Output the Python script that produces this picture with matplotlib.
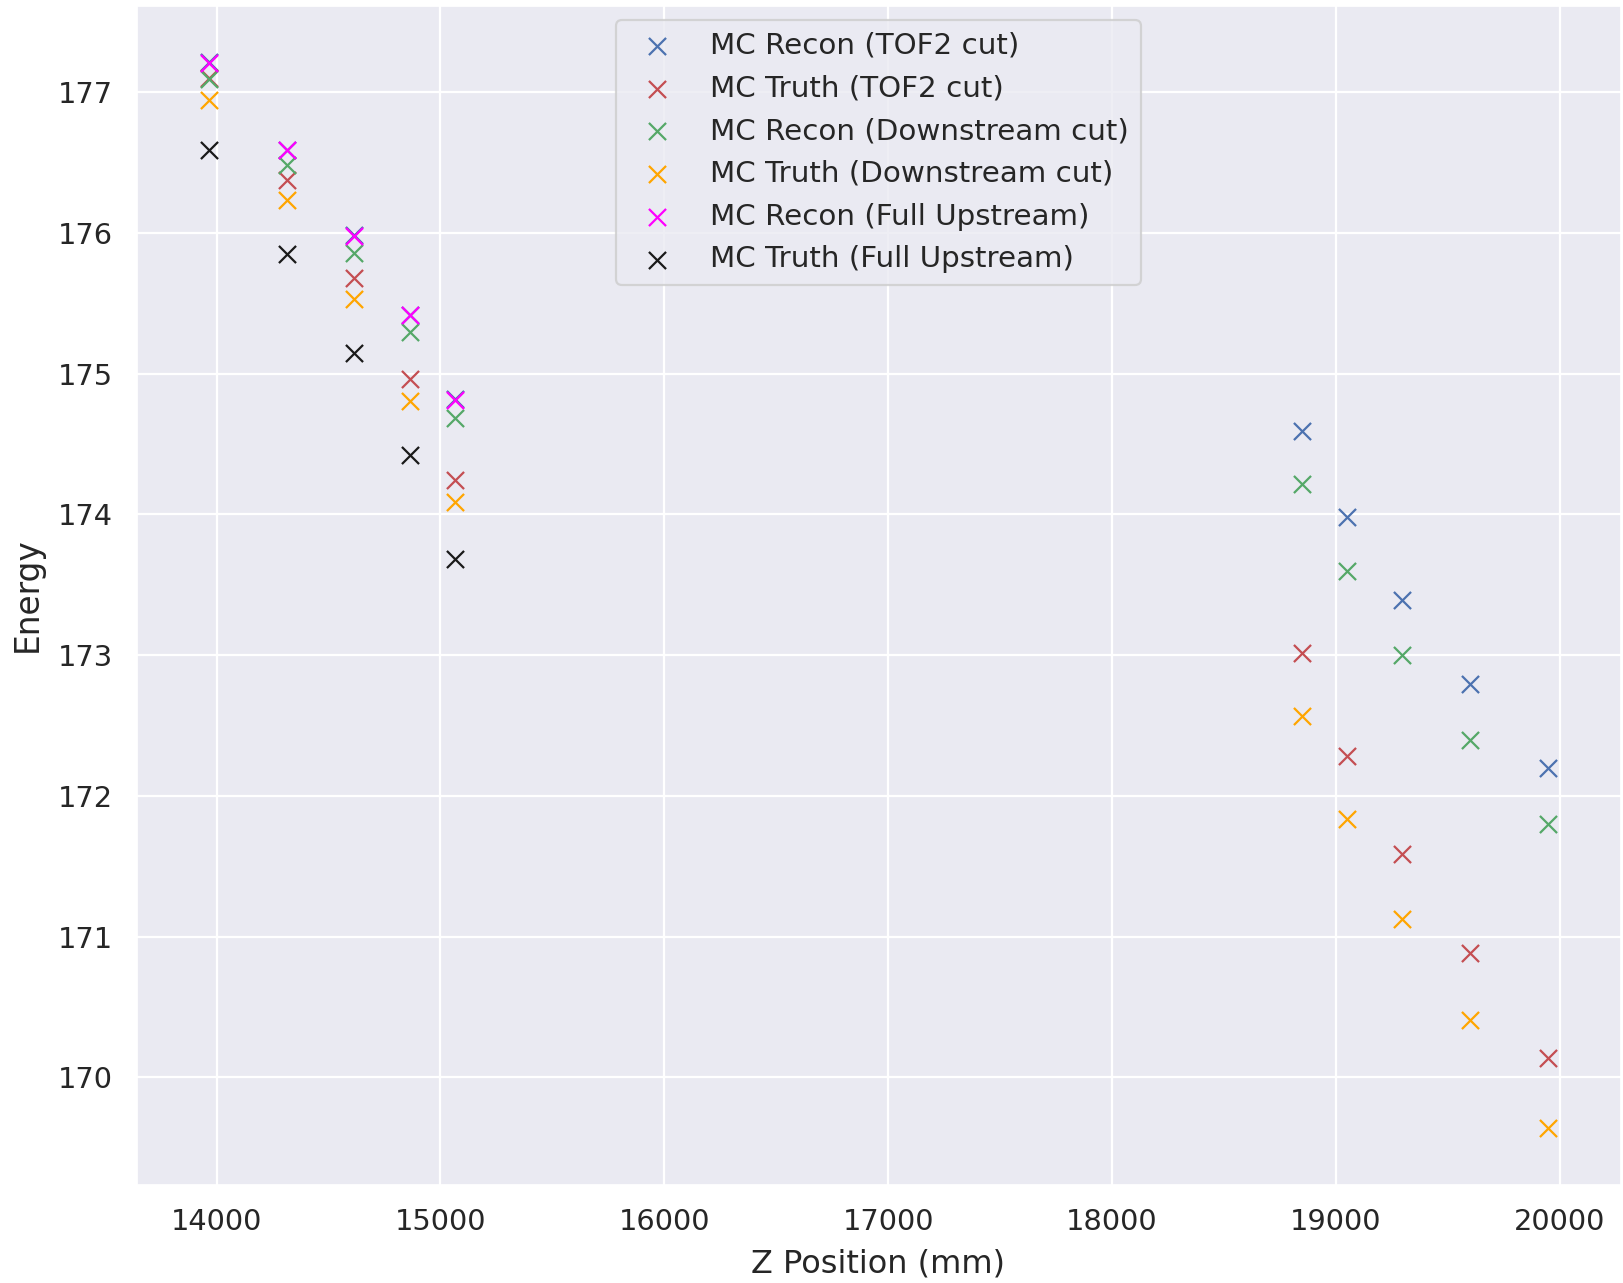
import matplotlib
matplotlib.use('Agg')
import matplotlib.pyplot as plt
import seaborn as sns

sns.set_theme(style='darkgrid', context='paper', color_codes=True)

# tracker station z positions (mm)
z_up = [13966, 14316, 14616, 14866, 15067]
z_down = [18848, 19050, 19295, 19597, 19946]

# upstream energies
recon_tof2_up = [177.215, 176.588, 175.984, 175.415, 174.816]
truth_tof2_up = [177.10, 176.375, 175.68, 174.96, 174.247]
recon_ds_up = [177.092, 176.48, 175.86, 175.292, 174.688]
truth_ds_up = [176.943, 176.23, 175.527, 174.806, 174.088]
recon_full_up = [177.205, 176.592, 175.975, 175.418, 174.81]
truth_full_up = [176.588, 175.853, 175.147, 174.42, 173.68]

# downstream energies
recon_tof2_down = [174.592, 173.98, 173.39, 172.797, 172.198]
truth_tof2_down = [173.017, 172.285, 171.584, 170.883, 170.137]
recon_ds_down = [174.218, 173.60, 172.999, 172.40, 171.80]
truth_ds_down = [172.57, 171.838, 171.127, 170.41, 169.64]

fig, ax = plt.subplots(figsize=(8.115, 6.415), dpi=200)
fig.subplots_adjust(left=0.0836, right=0.9988, top=0.996, bottom=0.0764)

kw = dict(marker='x', s=38, linewidths=0.8)
ax.scatter(z_up + z_down, recon_tof2_up + recon_tof2_down, c='b', label='MC Recon (TOF2 cut)', **kw)
ax.scatter(z_up + z_down, truth_tof2_up + truth_tof2_down, c='r', label='MC Truth (TOF2 cut)', **kw)
ax.scatter(z_up + z_down, recon_ds_up + recon_ds_down, c='g', label='MC Recon (Downstream cut)', **kw)
ax.scatter(z_up + z_down, truth_ds_up + truth_ds_down, c='orange', label='MC Truth (Downstream cut)', **kw)
ax.scatter(z_up, recon_full_up, c='magenta', label='MC Recon (Full Upstream)', **kw)
ax.scatter(z_up, truth_full_up, c='k', label='MC Truth (Full Upstream)', **kw)

ax.set_xlim(13639, 20273)
ax.set_ylim(169.235, 177.618)
ax.set_xlabel('Z Position (mm)', fontsize=11.5, labelpad=4.5)
ax.set_ylabel('Energy', fontsize=11.8, labelpad=5)
ax.tick_params(labelsize=10.4)
ax.legend(loc='upper center', fontsize=10.6)

fig.savefig('out.png', dpi=200)
